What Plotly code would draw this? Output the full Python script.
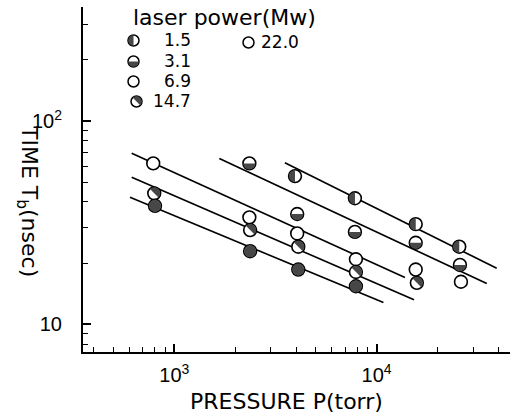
import numpy as np
import plotly.graph_objects as go

# ---------------- data ----------------
powers = ["1.5", "3.1", "6.9", "14.7", "22.0"]

p_15 = [3950, 7810, 15600, 25600]
t_15 = [53.6, 41.7, 31.1, 24.1]

p_31 = [2350, 4050, 7810, 15600, 25800]
t_31 = [61.9, 34.9, 28.5, 25.2, 19.6]

p_69 = [787, 2350, 4050, 7900, 15600, 26100]
t_69 = [61.9, 33.6, 28.0, 20.9, 18.6, 16.2]

p_147 = [796, 2370, 4100, 7900, 15800]
t_147 = [44.1, 29.1, 24.1, 18.1, 16.0]

p_220 = [803, 2370, 4100, 7900]
t_220 = [38.3, 22.9, 18.6, 15.4]

# fitted lines (start / end)
fit_p_15 = [3520, 39200]
fit_t_15 = [62.4, 18.9]
fit_p_31 = [1670, 35000]
fit_t_31 = [65.5, 15.9]
fit_p_69 = [616, 13800]
fit_t_69 = [69.4, 17.0]
fit_p_147 = [616, 15300]
fit_t_147 = [52.9, 13.2]
fit_p_220 = [604, 10800]
fit_t_220 = [42.2, 12.8]

x_tickvals = [1000, 10000]
x_ticktext = ["10<sup>3</sup>", "10<sup>4</sup>"]
x_minor = [400, 500, 600, 700, 800, 900, 2000, 3000, 4000, 5000, 6000, 7000,
           8000, 9000, 20000, 30000, 40000]
y_tickvals = [10, 100]
y_ticktext = ["10", "10<sup>2</sup>"]
y_minor = [8, 9, 20, 30, 40, 50, 60, 70, 80, 90, 200, 300]

series_p = [p_15, p_31, p_69, p_147, p_220]
series_t = [t_15, t_31, t_69, t_147, t_220]
fits_p = [fit_p_15, fit_p_31, fit_p_69, fit_p_147, fit_p_220]
fits_t = [fit_t_15, fit_t_31, fit_t_69, fit_t_147, fit_t_220]

# marker fill style: (kind, start angle of dark half in degrees)
fill_style = [("half", 90), ("half", 180), ("none", 0), ("half", -45), ("full", 0)]
legend_fill = [("half", 90), ("half", 180), ("none", 0), ("half", -45), ("none", 0)]

DARK = "#474747"
R = 6.4          # marker radius (px)
LEG_R = 5.5

# ---------------- figure ----------------
fig = go.Figure()

for fp, ft in zip(fits_p, fits_t):
    fig.add_trace(go.Scatter(x=fp, y=ft, mode="lines",
                             line=dict(color="black", width=1.7),
                             showlegend=False, hoverinfo="skip"))

for name, px_, tt in zip(powers, series_p, series_t):
    fig.add_trace(go.Scatter(x=px_, y=tt, mode="markers", name=name,
                             marker=dict(symbol="circle", size=2 * R, color="white",
                                         line=dict(color="black", width=1.6)),
                             showlegend=False))


def half_path(r, a0):
    angs = np.radians(np.linspace(a0, a0 + 180, 31))
    pts = [f"{r*np.cos(a):.2f},{r*np.sin(a):.2f}" for a in angs]
    return "M " + " L ".join(pts) + " Z"


def full_path(r):
    angs = np.radians(np.linspace(0, 360, 49))
    pts = [f"{r*np.cos(a):.2f},{r*np.sin(a):.2f}" for a in angs]
    return "M " + " L ".join(pts) + " Z"


shapes = []
for style, px_, tt in zip(fill_style, series_p, series_t):
    kind, a0 = style
    if kind == "none":
        continue
    path = half_path(R - 0.4, a0) if kind == "half" else full_path(R - 0.4)
    for p, t in zip(px_, tt):
        shapes.append(dict(type="path", xref="x", yref="y",
                           xsizemode="pixel", ysizemode="pixel",
                           xanchor=p, yanchor=t, path=path,
                           fillcolor=DARK, line=dict(width=0)))

# ---------------- manual legend ----------------
plot_l, plot_r, plot_t, plot_b = 83, 510, 7, 352
W, H = plot_r - plot_l, plot_b - plot_t


def px2paper(x, y):
    return (x - plot_l) / W, (plot_b - y) / H


leg_marker_px = [(133.5, 40.5), (133.5, 61.5), (133.5, 81.5), (136.5, 101.5), (248.5, 42.5)]
for style, (mx, my) in zip(legend_fill, leg_marker_px):
    ax_, ay_ = px2paper(mx, my)
    shapes.append(dict(type="circle", xref="paper", yref="paper",
                       xsizemode="pixel", ysizemode="pixel", xanchor=ax_, yanchor=ay_,
                       x0=-LEG_R, x1=LEG_R, y0=-LEG_R, y1=LEG_R,
                       fillcolor="white", line=dict(color="black", width=1.5)))
    kind, a0 = style
    if kind == "half":
        shapes.append(dict(type="path", xref="paper", yref="paper",
                           xsizemode="pixel", ysizemode="pixel", xanchor=ax_, yanchor=ay_,
                           path=half_path(LEG_R - 0.3, a0), fillcolor=DARK, line=dict(width=0)))

annotations = []
TXT_FONT = dict(family="DejaVu Sans", size=17, color="black")

tx, ty = px2paper(131, 17)
annotations.append(dict(text="laser power(Mw)", x=tx, y=ty, xref="paper", yref="paper",
                        xanchor="left", yanchor="middle", showarrow=False,
                        font=dict(family="DejaVu Sans", size=22, color="black")))
leg_text_px = [(193, 40), (193, 61), (193, 81), (193, 101)]
for name, (lx, ly) in zip(powers[:4], leg_text_px):
    ax_, ay_ = px2paper(lx, ly)
    annotations.append(dict(text=name, x=ax_, y=ay_, xref="paper", yref="paper",
                            xanchor="right", yanchor="middle", showarrow=False, font=TXT_FONT))
ax_, ay_ = px2paper(259, 42)
annotations.append(dict(text=powers[4], x=ax_, y=ay_, xref="paper", yref="paper",
                        xanchor="left", yanchor="middle", showarrow=False, font=TXT_FONT))

# axis titles
ax_, ay_ = px2paper(286, 401)
annotations.append(dict(text="PRESSURE P(torr)", x=ax_, y=ay_, xref="paper", yref="paper",
                        xanchor="center", yanchor="middle", showarrow=False,
                        font=dict(family="DejaVu Sans", size=22, color="black")))
ax_, ay_ = px2paper(28, 201)
annotations.append(dict(text="TIME T<sub>b</sub>(nsec)", x=ax_, y=ay_, xref="paper", yref="paper",
                        xanchor="center", yanchor="middle", showarrow=False, textangle=90,
                        font=dict(family="DejaVu Sans", size=22, color="black")))

TICK_FONT = dict(family="Liberation Sans", size=20, color="black")

fig.update_layout(
    width=510, height=413,
    margin=dict(l=plot_l, r=0, t=plot_t, b=413 - plot_b, pad=0),
    paper_bgcolor="white", plot_bgcolor="white",
    shapes=shapes, annotations=annotations, showlegend=False,
    xaxis=dict(type="log", range=[2.549, 4.659], showgrid=False, zeroline=False,
               showline=True, linecolor="black", linewidth=2,
               tickmode="array", tickvals=x_tickvals, ticktext=x_ticktext,
               ticks="inside", ticklen=8, tickwidth=1.5, tickcolor="black",
               tickfont=TICK_FONT, ticklabelstandoff=4,
               minor=dict(tickmode="array", tickvals=x_minor, ticks="inside",
                          ticklen=5, tickwidth=1.3, tickcolor="black", showgrid=False)),
    yaxis=dict(type="log", range=[0.864, 2.561], showgrid=False, zeroline=False,
               showline=True, linecolor="black", linewidth=2,
               tickmode="array", tickvals=y_tickvals, ticktext=y_ticktext,
               ticks="inside", ticklen=8, tickwidth=1.5, tickcolor="black",
               tickfont=TICK_FONT, ticklabelstandoff=15,
               minor=dict(tickmode="array", tickvals=y_minor, ticks="inside",
                          ticklen=5, tickwidth=1.3, tickcolor="black", showgrid=False)),
)

fig.write_html("out.html")
